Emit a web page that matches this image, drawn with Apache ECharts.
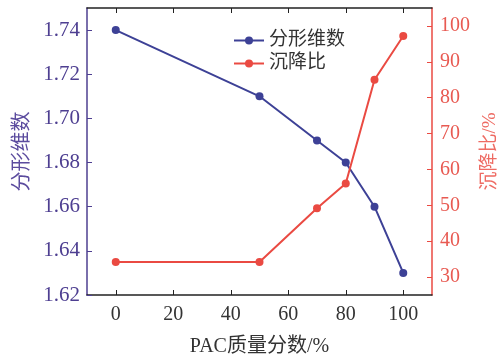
<!DOCTYPE html>
<html><head><meta charset="utf-8">
<script src="https://cdn.jsdelivr.net/npm/echarts@6/dist/echarts.min.js"></script>
<style>html,body{margin:0;padding:0;background:#fff}#c{width:501px;height:361px}</style>
</head><body><div id="c"></div>
<script>
const pacMass = [0, 50, 70, 80, 90, 100];
const fractalDim = [1.74, 1.71, 1.69, 1.68, 1.66, 1.63];
const settleRatio = [34.2, 34.2, 49.2, 56.1, 85, 97.2];
const xTicks = [0, 20, 40, 60, 80, 100];
const leftTicks = [1.62, 1.64, 1.66, 1.68, 1.70, 1.72, 1.74];
const rightTicks = [30, 40, 50, 60, 70, 80, 90, 100];

const FONT = "'Liberation Serif','Noto Sans CJK SC',serif";
const BLUE = '#3d4196', PURPLE = '#4e3f91', RED = '#ea4a42';
const chart = echarts.init(document.getElementById('c'), null, {renderer:'canvas'});
chart.setOption({
  animation:false,
  backgroundColor:'#fff',
  textStyle:{fontFamily:FONT},
  grid:{left:87, right:69, top:8, bottom:66, containLabel:false, outerBoundsMode:'none'},
  legend:{
    left:228, top:26, orient:'vertical', itemWidth:30, itemHeight:10, itemGap:4,
    textStyle:{fontSize:19, color:'#333', fontFamily:FONT},
    data:['分形维数','沉降比']
  },
  xAxis:[{
    type:'value', min:-10, max:110, position:'bottom',
    name:'PAC质量分数/%', nameLocation:'middle', nameGap:42,
    nameTextStyle:{fontSize:20, color:'#333', fontFamily:FONT},
    axisLine:{onZero:false, lineStyle:{color:'#222', width:1.5}},
    axisTick:{inside:true, length:5, lineStyle:{color:'#222'}, customValues:xTicks},
    axisLabel:{fontSize:20, color:'#333', margin:10, customValues:xTicks},
    splitLine:{show:false}
  },{
    type:'value', min:-10, max:110, position:'top',
    axisLine:{onZero:false, lineStyle:{color:'#222', width:1.5}},
    axisTick:{inside:true, length:5, lineStyle:{color:'#222'}, customValues:xTicks},
    axisLabel:{show:false},
    splitLine:{show:false}
  }],
  yAxis:[{
    type:'value', min:1.62, max:1.75, position:'left',
    name:'分形维数', nameLocation:'middle', nameGap:50,
    nameTextStyle:{fontSize:20, color:'#5b4b9e', fontFamily:FONT},
    axisLine:{show:true, onZero:false, lineStyle:{color:PURPLE, width:1.5}},
    axisTick:{show:true, inside:true, length:5, lineStyle:{color:PURPLE}, customValues:leftTicks},
    axisLabel:{fontSize:21, color:PURPLE, margin:7, customValues:leftTicks, formatter:v=>v.toFixed(2)},
    splitLine:{show:false}
  },{
    type:'value', min:25, max:105, position:'right',
    name:'沉降比/%', nameLocation:'middle', nameGap:42, nameRotate:90,
    nameTextStyle:{fontSize:19, color:'#ee6b63', fontFamily:FONT},
    axisLine:{show:true, onZero:false, lineStyle:{color:RED, width:1.5}},
    axisTick:{show:true, inside:true, length:5, lineStyle:{color:RED}, customValues:rightTicks},
    axisLabel:{fontSize:20, color:'#e85a52', margin:8, customValues:rightTicks},
    splitLine:{show:false}
  }],
  series:[{
    name:'分形维数', type:'line', xAxisIndex:0, yAxisIndex:0,
    data:pacMass.map((x,i)=>[x, fractalDim[i]]),
    symbol:'circle', symbolSize:8, color:BLUE, lineStyle:{width:2, color:BLUE}
  },{
    name:'沉降比', type:'line', xAxisIndex:0, yAxisIndex:1,
    data:pacMass.map((x,i)=>[x, settleRatio[i]]),
    symbol:'circle', symbolSize:8, color:RED, lineStyle:{width:2, color:RED}
  }]
});
</script></body></html>
